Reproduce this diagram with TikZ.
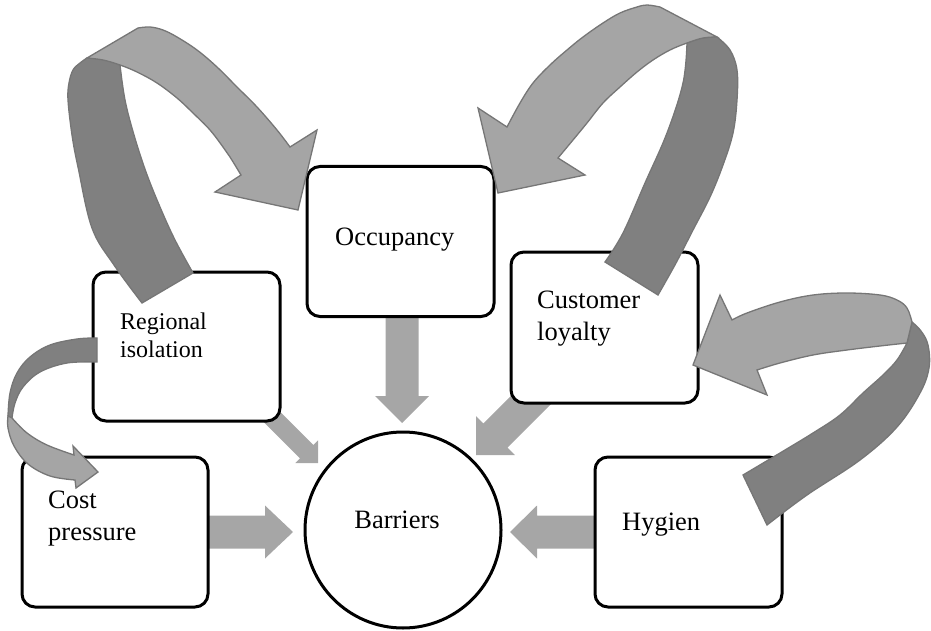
\documentclass[tikz,border=0pt]{standalone}
\usepackage{fontspec}
\setmainfont{Liberation Serif}
\usetikzlibrary{calc}
\definecolor{blockgray}{RGB}{166,166,166}
\definecolor{ribbondark}{RGB}{128,128,128}
\definecolor{ribbonlight}{RGB}{165,165,165}
\definecolor{ribbonline}{RGB}{118,118,118}
% #1 tail coordinate, #2 tip coordinate, #3 shaft half width, #4 head half width, #5 head length
\newcommand{\blockarrow}[5]{%
  \fill[blockgray] ($(#1)!#3!90:(#2)$) -- ($(#2)!#5!(#1)!#3!-90:(#1)$)
    -- ($(#2)!#5!(#1)!#4!-90:(#1)$) -- (#2) -- ($(#2)!#5!(#1)!#4!90:(#1)$)
    -- ($(#2)!#5!(#1)!#3!90:(#1)$) -- ($(#1)!#3!-90:(#2)$) -- cycle;}
\tikzset{
  box/.style={draw=black, line width=3pt, rounded corners=13pt, fill=white,
    minimum width=187pt, minimum height=150pt, inner sep=0pt},
  ring/.style={circle, draw=black, line width=3pt, fill=white, minimum size=196pt, inner sep=0pt},
  lbl/.style={inner sep=0pt, anchor=base west, align=left, font=\fontsize{26.5}{32}\selectfont},
  darkribbon/.style={fill=ribbondark, draw=ribbonline, line width=1.3pt},
  lightribbon/.style={fill=ribbonlight, draw=ribbonline, line width=1.3pt},
}
\begin{document}
\begin{tikzpicture}[x=1pt,y=-1pt]
\useasboundingbox (0,0) rectangle (931,631);

% straight block arrows (tails under the boxes)
\coordinate (a1s) at (402,310); \coordinate (a1e) at (402,423);
\coordinate (a2s) at (200,532); \coordinate (a2e) at (293,532);
\coordinate (a3s) at (603,532); \coordinate (a3e) at (510,532);
\coordinate (a4s) at (258,403); \coordinate (a4e) at (318,463);
\coordinate (a5s) at (550,381); \coordinate (a5e) at (476,455);
\blockarrow{a1s}{a1e}{16.5pt}{27pt}{27pt}
\blockarrow{a2s}{a2e}{16.5pt}{26.5pt}{28pt}
\blockarrow{a3s}{a3e}{16.5pt}{26.5pt}{27pt}
\blockarrow{a4s}{a4e}{9.5pt}{16pt}{16pt}
\blockarrow{a5s}{a5e}{17pt}{27.5pt}{27.5pt}

% boxes and circle
\node[box] (occ) at (400.5,241.5) {};
\node[box, minimum height=149pt] (reg) at (186.5,346.5) {};
\node[box, minimum height=151pt] (cus) at (604.5,327.5) {};
\node[box, minimum width=186pt] (cost) at (115,532) {};
\node[box] (hyg) at (688.5,532) {};
\node[ring] (bar) at (403,530) {};

% texts (anchor at the baseline of the last line)
\node[lbl] (occT) at (335,245) {Occupancy};
\node[lbl, anchor=base] (barT) at (397,528) {Barriers};
\node[lbl] (hygT) at (622,530) {Hygien};
\node[lbl] (costT) at (48,540) {Cost\\pressure};
\node[lbl, font=\fontsize{24}{28}\selectfont] (regT) at (120,357) {Regional\\isolation};
\node[lbl] (cusT) at (537,340) {Customer\\loyalty};

% ribbon A (Regional isolation -> Occupancy)
\draw[darkribbon] (142,303) -- (193,273)
  -- plot[smooth,tension=0.6] coordinates {(193,273) (175,240) (160,207) (146,172) (134,135) (125,100) (120,65)}
  -- plot[smooth,tension=0.6] coordinates {(120,65) (104,58) (87,58)}
  -- plot[smooth,tension=0.6] coordinates {(87,58) (80,63) (73,70) (69,83) (68,100) (72,135) (78,167) (92,228) (114,265) (142,303)}
  -- cycle;
\draw[lightribbon] (87,58) -- (138,28)
  -- plot[smooth,tension=0.6] coordinates {(138,28) (150,27) (163,30) (177,37) (197,50) (217,67) (237,87) (257,107) (277,130) (290,147)}
  -- (317,130) -- (298,210) -- (215,192) -- (241,175)
  -- plot[smooth,tension=0.6] coordinates {(241,175) (230,157) (223,147) (210,130) (193,113) (177,98) (157,83) (137,72) (120,65) (103,60) (87,58)}
  -- cycle;

% ribbon B (Customer loyalty -> Occupancy)
\draw[darkribbon] (605,262) -- (658,295)
  -- plot[smooth,tension=0.6] coordinates {(658,295) (676,263) (693,230) (710,197) (723,165) (733,133) (737,100) (737,70) (730,50) (717,37)}
  -- plot[smooth,tension=0.6] coordinates {(717,37) (702,38) (687,43)}
  -- plot[smooth,tension=0.6] coordinates {(687,43) (683,83) (667,133) (645,183) (623,233) (605,262)}
  -- cycle;
\draw[lightribbon] (717,37) -- (660,7)
  -- plot[smooth,tension=0.6] coordinates {(660,7) (647,5) (637,7) (620,13) (603,23) (583,37) (567,50) (550,65) (533,83) (520,103) (507,127)}
  -- (478,108) -- (498,193) -- (585,175) -- (558,158)
  -- plot[smooth,tension=0.6] coordinates {(558,158) (573,140) (587,123) (603,103) (620,87) (637,72) (653,60) (670,50) (687,43) (703,38) (717,37)}
  -- cycle;

% ribbon C (Hygien -> Customer loyalty)
\draw[darkribbon] (743,475) -- (767,525)
  -- plot[smooth,tension=0.6] coordinates {(767,525) (807,495) (860,460) (897,427) (920,393) (929,368) (928,345) (921,331) (912,322)}
  -- (907,343)
  -- plot[smooth,tension=0.6] coordinates {(907,343) (897,360) (883,375) (863,393) (840,415) (813,433) (780,453) (743,475)}
  -- cycle;
\draw[lightribbon] (912,322) -- (907,343)
  -- plot[smooth,tension=0.6] coordinates {(907,343) (880,346) (847,350) (813,355) (780,363) (757,370)}
  -- (767,395) -- (693,365) -- (720,295) -- (732,320)
  -- plot[smooth,tension=0.6] coordinates {(732,320) (747,313) (780,302) (813,295) (847,293) (880,295) (897,300) (907,308) (912,322)}
  -- cycle;

% ribbon D (Regional isolation -> Cost pressure)
\draw[darkribbon] (97,338) -- (97,362)
  -- plot[smooth,tension=0.6] coordinates {(97,362) (67,363) (40,372) (23,387) (15,403) (12,418)}
  -- (8,416)
  -- plot[smooth,tension=0.6] coordinates {(8,416) (10,393) (17,373) (30,357) (50,345) (77,339) (97,338)}
  -- cycle;
\draw[lightribbon] (8,416) -- (12,418)
  -- plot[smooth,tension=0.6] coordinates {(12,418) (27,433) (47,445) (74,455)}
  -- (73,446) -- (98,472) -- (76,488) -- (75,480)
  -- plot[smooth,tension=0.6] coordinates {(75,480) (50,476) (28,464) (14,446) (8,428) (8,416)}
  -- cycle;
\end{tikzpicture}
\end{document}
